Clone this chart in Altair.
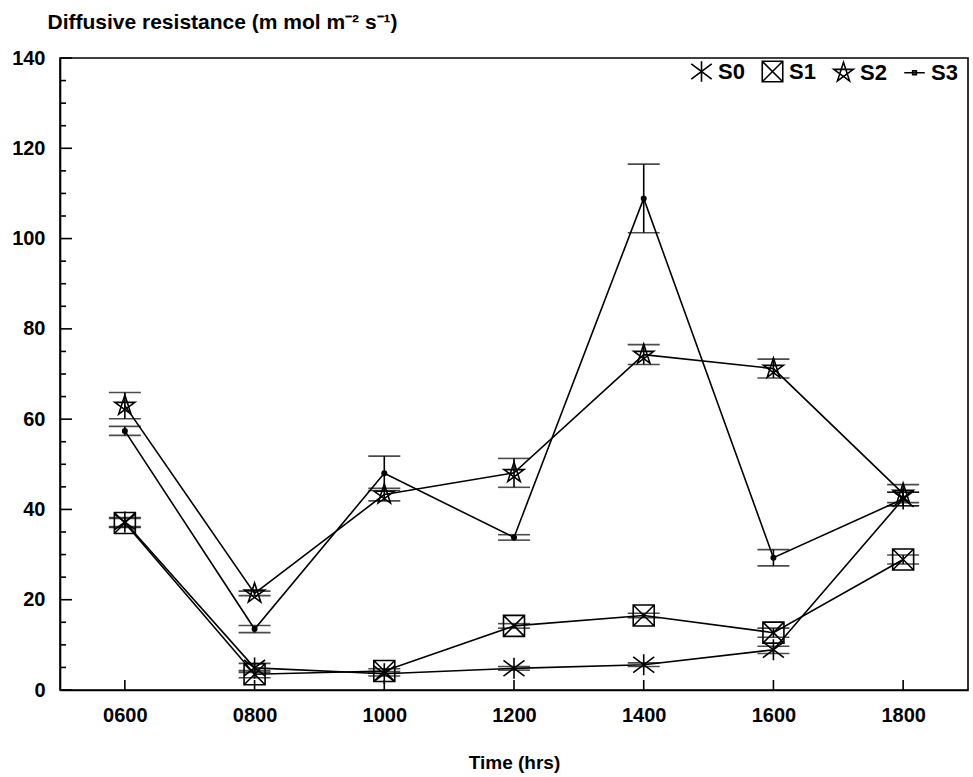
import altair as alt
import pandas as pd

# Sampling times (hours of the day) and treatments
hours = [6, 8, 10, 12, 14, 16, 18]
series_names = ["S0", "S1", "S2", "S3"]

# Mean diffusive resistance and half-width of the error bar for each treatment
s0_mean = [37.2, 4.9, 3.6, 4.8, 5.6, 8.9, 42.3]
s0_err = [1.0, 1.0, 0.5, 0.4, 0.4, 0.8, 1.5]
s1_mean = [37.0, 3.5, 4.2, 14.2, 16.5, 12.7, 28.9]
s1_err = [1.0, 0.8, 0.5, 0.5, 0.5, 1.0, 1.0]
s2_mean = [63.0, 21.4, 43.3, 48.1, 74.3, 71.2, 43.5]
s2_err = [2.9, 0.5, 1.4, 3.2, 2.2, 2.1, 2.0]
s3_mean = [57.4, 13.5, 48.0, 33.8, 108.9, 29.3, 42.3]
s3_err = [1.0, 0.8, 3.8, 0.6, 7.6, 1.8, 1.5]

y_major = [0, 20, 40, 60, 80, 100, 120, 140]
y_minor = [v for v in range(0, 141, 5) if v % 20 != 0]

rows = []
for name, means, errs in zip(series_names,
                             [s0_mean, s1_mean, s2_mean, s3_mean],
                             [s0_err, s1_err, s2_err, s3_err]):
    for h, m, e in zip(hours, means, errs):
        rows.append({"hour": h, "series": name, "mean": m,
                     "lo": m - e, "hi": m + e})
df = pd.DataFrame(rows)
major_df = pd.DataFrame({"v": y_major})
minor_df = pd.DataFrame({"v": y_minor})
hour_df = pd.DataFrame({"hour": hours})

# Marker outlines: asterisk, crossed square, pentagram, and a dash with a dot
marker_paths = [
    "M-1,-0.75L1,0.75M-1,0.75L1,-0.75M0,-1L0,1",
    "M-1,-1L1,-1L1,1L-1,1Z M-1,-1L1,1 M1,-1L-1,1",
    "M0,-1L0.588,0.809L-0.951,-0.309L0.951,-0.309L-0.588,0.809Z",
    "M-1,0L1,0 M-0.18,-0.18L0.18,-0.18L0.18,0.18L-0.18,0.18Z",
]

xscale = alt.Scale(domain=[5, 19], nice=False, zero=False)
yscale = alt.Scale(domain=[0, 140], nice=False)

x_axis = alt.Axis(
    values=hours,
    labelExpr="(datum.value < 10 ? '0' : '') + datum.value + '00'",
    ticks=False,
    domainColor="black",
    domainWidth=1.6,
    labelFontSize=20,
    labelFontWeight="bold",
    labelColor="black",
    labelPadding=15,
    labelFlush=False,
    grid=False,
    title="Time (hrs)",
    titleFontSize=19,
    titleFontWeight="bold",
    titleColor="black",
    titlePadding=28,
)

y_axis = alt.Axis(
    values=y_major,
    ticks=False,
    domainColor="black",
    domainWidth=1.6,
    labelFontSize=20,
    labelFontWeight="bold",
    labelColor="black",
    labelPadding=15,
    labelFlush=False,
    grid=False,
    title="Diffusive resistance (m mol m\u207b\u00b2 s\u207b\u00b9)",
    titleAngle=0,
    titleAlign="left",
    titleBaseline="alphabetic",
    titleX=-13,
    titleY=-30,
    titleFontSize=21,
    titleFontWeight="bold",
    titleColor="black",
)


def xe(field="hour"):
    return alt.X(f"{field}:Q", scale=xscale, axis=x_axis)


def ye(field):
    return alt.Y(f"{field}:Q", scale=yscale, axis=y_axis)


base = alt.Chart(df)

lines = base.mark_line(color="black", strokeWidth=1.6).encode(
    x=xe(), y=ye("mean"), detail="series:N",
)

bars = base.mark_rule(color="black", strokeWidth=1.6).encode(
    x=xe(), y=ye("lo"), y2="hi:Q",
)

caps_lo = base.mark_tick(orient="horizontal", size=32, thickness=1.6, color="black").encode(
    x=xe(), y=ye("lo"),
)
caps_hi = base.mark_tick(orient="horizontal", size=32, thickness=1.6, color="black").encode(
    x=xe(), y=ye("hi"),
)

outline_points = base.mark_point(
    filled=False, color="black", strokeWidth=1.6, size=441, opacity=1
).encode(
    x=xe(),
    y=ye("mean"),
    shape=alt.Shape(
        "series:N",
        scale=alt.Scale(domain=series_names, range=marker_paths),
        legend=alt.Legend(
            title=None,
            orient="none",
            legendX=630,
            legendY=2,
            direction="horizontal",
            symbolSize=420,
            symbolStrokeWidth=1.6,
            symbolStrokeColor="black",
            symbolFillColor="transparent",
            labelFontSize=22,
            labelFontWeight="bold",
            labelColor="black",
            labelOffset=5,
            columnPadding=14,
            padding=0,
        ),
    ),
).transform_filter(alt.datum.series != "S3")

dot_points = base.mark_circle(color="black", size=36, opacity=1).encode(
    x=xe(), y=ye("mean"),
).transform_filter(alt.datum.series == "S3")

# Tick marks drawn on the inside of both axes
y_major_ticks = alt.Chart(major_df).mark_rule(color="black", strokeWidth=1.6).encode(
    y=ye("v"), x=alt.value(0), x2=alt.value(12),
)
y_minor_ticks = alt.Chart(minor_df).mark_rule(color="black", strokeWidth=1.6).encode(
    y=ye("v"), x=alt.value(0), x2=alt.value(6),
)
x_ticks = alt.Chart(hour_df).mark_rule(color="black", strokeWidth=1.6).encode(
    x=xe(), y=alt.value(632), y2=alt.value(622),
)

chart = alt.layer(
    lines, bars, caps_lo, caps_hi, outline_points, dot_points,
    y_major_ticks, y_minor_ticks, x_ticks,
).properties(
    width=908,
    height=632,
    autosize=alt.AutoSizeParams(type="none"),
    padding={"left": 60, "top": 58, "right": 5, "bottom": 87},
    background="white",
).configure(
    font="Liberation Sans",
).configure_view(
    stroke="black",
    strokeWidth=1.6,
)

chart.save("out.html", embed_options={"renderer": "svg", "actions": False})
